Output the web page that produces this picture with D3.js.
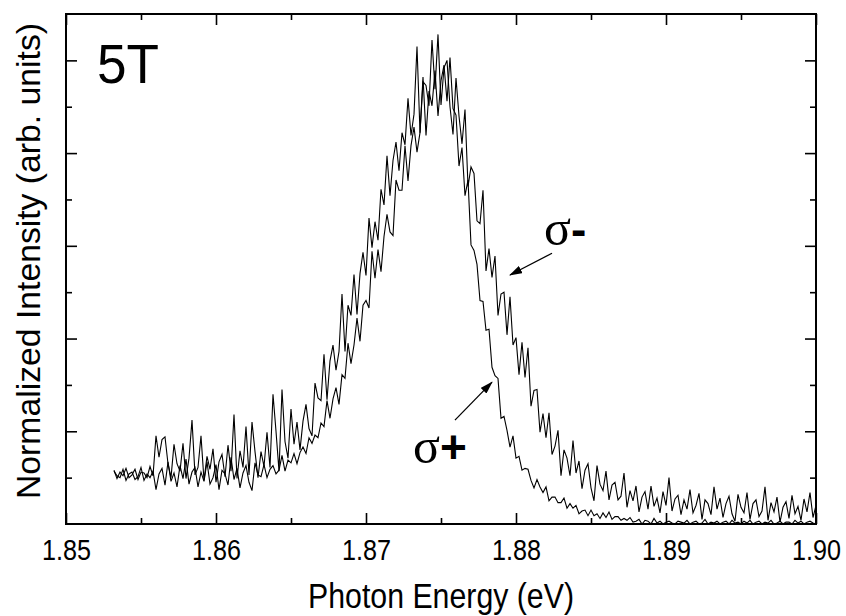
<!DOCTYPE html>
<html>
<head>
<meta charset="utf-8">
<script src="https://cdn.jsdelivr.net/npm/d3@7/dist/d3.min.js"></script>
<style>
body { margin: 0; background: #fff; }
#chart text { font-family: "Liberation Sans", Arial, sans-serif; fill: #000; }
</style>
</head>
<body>
<div id="chart"></div>
<script>

// Photon energy of each spectrometer channel (eV)
var energy = [
    1.8532, 1.8534, 1.8536, 1.8538, 1.8540, 1.8542, 1.8544, 1.8546, 1.8548, 1.8550,
    1.8552, 1.8554, 1.8556, 1.8558, 1.8560, 1.8562, 1.8564, 1.8566, 1.8568, 1.8570,
    1.8572, 1.8574, 1.8576, 1.8578, 1.8580, 1.8582, 1.8584, 1.8586, 1.8588, 1.8590,
    1.8592, 1.8594, 1.8596, 1.8598, 1.8600, 1.8602, 1.8604, 1.8606, 1.8608, 1.8610,
    1.8612, 1.8614, 1.8616, 1.8618, 1.8620, 1.8622, 1.8624, 1.8626, 1.8628, 1.8630,
    1.8632, 1.8634, 1.8636, 1.8638, 1.8640, 1.8642, 1.8644, 1.8646, 1.8648, 1.8650,
    1.8652, 1.8654, 1.8656, 1.8658, 1.8660, 1.8662, 1.8664, 1.8666, 1.8668, 1.8670,
    1.8672, 1.8674, 1.8676, 1.8678, 1.8680, 1.8682, 1.8684, 1.8686, 1.8688, 1.8690,
    1.8692, 1.8694, 1.8696, 1.8698, 1.8700, 1.8702, 1.8704, 1.8706, 1.8708, 1.8710,
    1.8712, 1.8714, 1.8716, 1.8718, 1.8720, 1.8722, 1.8724, 1.8726, 1.8728, 1.8730,
    1.8732, 1.8734, 1.8736, 1.8738, 1.8740, 1.8742, 1.8744, 1.8746, 1.8748, 1.8750,
    1.8752, 1.8754, 1.8756, 1.8758, 1.8760, 1.8762, 1.8764, 1.8766, 1.8768, 1.8770,
    1.8772, 1.8774, 1.8776, 1.8778, 1.8780, 1.8782, 1.8784, 1.8786, 1.8788, 1.8790,
    1.8792, 1.8794, 1.8796, 1.8798, 1.8800, 1.8802, 1.8804, 1.8806, 1.8808, 1.8810,
    1.8812, 1.8814, 1.8816, 1.8818, 1.8820, 1.8822, 1.8824, 1.8826, 1.8828, 1.8830,
    1.8832, 1.8834, 1.8836, 1.8838, 1.8840, 1.8842, 1.8844, 1.8846, 1.8848, 1.8850,
    1.8852, 1.8854, 1.8856, 1.8858, 1.8860, 1.8862, 1.8864, 1.8866, 1.8868, 1.8870,
    1.8872, 1.8874, 1.8876, 1.8878, 1.8880, 1.8882, 1.8884, 1.8886, 1.8888, 1.8890,
    1.8892, 1.8894, 1.8896, 1.8898, 1.8900, 1.8902, 1.8904, 1.8906, 1.8908, 1.8910,
    1.8912, 1.8914, 1.8916, 1.8918, 1.8920, 1.8922, 1.8924, 1.8926, 1.8928, 1.8930,
    1.8932, 1.8934, 1.8936, 1.8938, 1.8940, 1.8942, 1.8944, 1.8946, 1.8948, 1.8950,
    1.8952, 1.8954, 1.8956, 1.8958, 1.8960, 1.8962, 1.8964, 1.8966, 1.8968, 1.8970,
    1.8972, 1.8974, 1.8976, 1.8978, 1.8980, 1.8982, 1.8984, 1.8986, 1.8988, 1.8990,
    1.8992, 1.8994, 1.8996, 1.8998, 1.9000
];

// sigma- spectrum (broad, noisy tail on the high energy side)
var sigmaMinus = [
    0.58, 0.49, 0.56, 0.52, 0.60, 0.50, 0.53, 0.59, 0.48, 0.56, 0.55, 0.50, 0.62, 0.52,
    0.95, 0.72, 0.91, 0.94, 0.65, 0.50, 0.86, 0.65, 0.57, 0.87,
    0.49, 0.71, 1.12, 0.53, 0.61, 0.95, 0.47, 0.73, 0.59, 0.81,
    0.45, 0.67, 0.75, 0.51, 0.85, 0.57, 1.18, 0.49, 0.79, 0.61,
    1.05, 0.53, 1.10, 0.78, 0.50, 0.78, 0.62, 0.99, 0.61, 1.40,
    1.00, 0.57, 1.45, 0.89, 0.71, 1.24, 0.86, 1.10, 0.80, 1.11,
    1.29, 1.03, 0.95, 1.52, 1.36, 1.33, 1.83, 1.34, 1.76, 1.93,
    1.66, 1.86, 2.48, 1.86, 2.36, 2.25, 2.69, 2.26, 2.70, 2.93,
    2.68, 3.30, 2.98, 3.26, 3.06, 3.61, 3.44, 3.97, 3.54, 3.92,
    4.12, 3.81, 4.22, 4.09, 4.59, 4.19, 4.42, 5.15, 4.22, 4.77,
    4.73, 4.51, 5.22, 4.69, 5.28, 4.52, 4.92, 5.00, 4.50, 4.20,
    4.81, 4.40, 4.10, 4.47, 3.64, 3.85, 3.78, 3.27, 3.24, 3.60,
    2.73, 2.97, 2.66, 2.89, 2.25, 2.48, 2.50, 2.04, 2.45, 1.93,
    2.01, 1.61, 1.96, 1.58, 1.90, 1.27, 1.44, 1.45, 0.99, 1.19,
    0.93, 1.20, 0.75, 0.84, 1.01, 0.52, 0.80, 0.71, 0.52, 0.90,
    0.55, 0.68, 0.38, 0.58, 0.65, 0.39, 0.25, 0.63, 0.43, 0.36,
    0.57, 0.26, 0.42, 0.45, 0.26, 0.30, 0.55, 0.18, 0.36, 0.25,
    0.41, 0.13, 0.29, 0.35, 0.16, 0.41, 0.19, 0.28, 0.12, 0.35,
    0.20, 0.50, 0.14, 0.27, 0.31, 0.10, 0.26, 0.16, 0.37, 0.12,
    0.20, 0.33, 0.05, 0.26, 0.22, 0.10, 0.40, 0.16, 0.28, 0.07,
    0.22, 0.30, 0.11, 0.03, 0.32, 0.18, 0.12, 0.34, 0.05, 0.22,
    0.26, 0.08, 0.14, 0.40, 0.04, 0.23, 0.13, 0.29, 0.02, 0.18,
    0.24, 0.06, 0.31, 0.11, 0.19, 0.04, 0.27, 0.13, 0.34, 0.07,
    0.20
];

// sigma+ spectrum (narrower, smooth tail)
var sigmaPlus = [
    0.57, 0.52, 0.50, 0.59, 0.47, 0.54, 0.56, 0.48, 0.51, 0.61, 0.47, 0.54, 0.50, 0.57,
    0.37, 0.54, 0.60, 0.42, 0.67, 0.46, 0.55, 0.40, 0.63, 0.49,
    0.70, 0.43, 0.56, 0.61, 0.40, 0.56, 0.46, 0.67, 0.43, 0.50,
    0.64, 0.37, 0.58, 0.54, 0.42, 0.72, 0.48, 0.60, 0.39, 0.55,
    0.63, 0.45, 0.36, 0.66, 0.53, 0.51, 0.64, 0.50, 0.59, 0.63,
    0.54, 0.58, 0.74, 0.57, 0.69, 0.66, 0.76, 0.65, 0.77, 0.83,
    0.76, 0.93, 0.87, 0.96, 0.93, 1.09, 1.05, 1.33, 1.14, 1.35,
    1.47, 1.29, 1.61, 1.57, 1.95, 1.73, 1.93, 2.22, 1.97, 2.36,
    2.41, 2.33, 2.94, 2.65, 2.96, 2.72, 3.10, 3.34, 3.15, 3.11,
    3.71, 3.60, 3.60, 4.08, 3.70, 4.08, 4.28, 4.01, 4.22, 4.82,
    4.19, 4.67, 4.51, 4.89, 4.40, 4.78, 4.95, 4.56, 5.03, 4.48,
    4.41, 3.86, 4.06, 3.54, 3.71, 3.01, 2.95, 2.80, 2.41, 2.40,
    2.09, 2.10, 1.69, 1.60, 1.57, 1.14, 1.16, 1.01, 0.83, 0.95,
    0.71, 0.73, 0.58, 0.60, 0.59, 0.47, 0.39, 0.48, 0.40, 0.34,
    0.40, 0.25, 0.29, 0.29, 0.23, 0.23, 0.28, 0.17, 0.22, 0.17,
    0.20, 0.11, 0.14, 0.15, 0.09, 0.15, 0.09, 0.11, 0.06, 0.12,
    0.07, 0.13, 0.05, 0.08, 0.08, 0.04, 0.06, 0.04, 0.07, 0.02,
    0.03, 0.05, 0.00, 0.04, 0.03, 0.00, 0.06, 0.01, 0.03, 0.00,
    0.02, 0.03, 0.01, 0.00, 0.03, 0.02, 0.01, 0.04, 0.00, 0.02,
    0.03, 0.00, 0.01, 0.05, 0.00, 0.02, 0.01, 0.03, 0.00, 0.02,
    0.03, 0.00, 0.04, 0.01, 0.02, 0.00, 0.03, 0.01, 0.04, 0.00,
    0.02, 0.03, 0.00, 0.02, 0.01, 0.04, 0.00, 0.01, 0.03, 0.00,
    0.02, 0.02, 0.00, 0.04, 0.01, 0.03, 0.00, 0.02, 0.03, 0.01,
    0.00
];

// axis ticks
var xMajorTicks = [1.85, 1.86, 1.87, 1.88, 1.89, 1.90];
var xMinorTicks = [1.855, 1.865, 1.875, 1.885, 1.895];
var yMajorTicks = [1, 2, 3, 4, 5];
var yMinorTicks = [0.5, 1.5, 2.5, 3.5, 4.5];

var width = 846, height = 616;
var margin = {top: 14, right: 30, bottom: 92, left: 66};
var plotW = width - margin.left - margin.right;
var plotH = height - margin.top - margin.bottom;

var svg = d3.select("#chart").append("svg")
    .attr("width", width)
    .attr("height", height);

var x = d3.scaleLinear().domain([1.85, 1.90]).range([0, plotW]);
var y = d3.scaleLinear().domain([0, 5.5]).range([plotH, 0]);

var g = svg.append("g").attr("transform", `translate(${margin.left},${margin.top})`);

// Inward pointing ticks on all four sides
function tickAxis(axis, values, size, fmt) {
    return axis.tickValues(values).tickSize(size).tickFormat(fmt || "");
}

function addAxis(axis, transform) {
    var a = g.append("g").attr("transform", transform).call(axis);
    a.select(".domain").remove();
    a.selectAll("line").attr("stroke", "#000").attr("stroke-width", 1.6);
    return a;
}

var fmt = d3.format(".2f");
var bottom = addAxis(tickAxis(d3.axisBottom(x), xMajorTicks, -11, fmt).tickPadding(15), `translate(0,${plotH})`);
addAxis(tickAxis(d3.axisBottom(x), xMinorTicks, -6), `translate(0,${plotH})`);
addAxis(tickAxis(d3.axisTop(x), xMajorTicks, -11), "translate(0,0)");
addAxis(tickAxis(d3.axisTop(x), xMinorTicks, -6), "translate(0,0)");
addAxis(tickAxis(d3.axisLeft(y), yMajorTicks, -11), "translate(0,0)");
addAxis(tickAxis(d3.axisLeft(y), yMinorTicks, -6), "translate(0,0)");
addAxis(tickAxis(d3.axisRight(y), yMajorTicks, -11), `translate(${plotW},0)`);
addAxis(tickAxis(d3.axisRight(y), yMinorTicks, -6), `translate(${plotW},0)`);

// tick labels are a little condensed in the original
bottom.attr("font-size", null).attr("font-family", null);
bottom.selectAll("text")
    .style("font-size", "30px")
    .attr("transform", "scale(0.84,1)");

// frame
g.append("rect")
    .attr("width", plotW)
    .attr("height", plotH)
    .attr("fill", "none")
    .attr("stroke", "#000")
    .attr("stroke-width", 2);

// spectra
var line = d3.line()
    .x(d => x(d[0]))
    .y(d => y(d[1]));

[sigmaMinus, sigmaPlus].forEach(function(series) {
    g.append("path")
        .datum(d3.zip(energy, series))
        .attr("fill", "none")
        .attr("stroke", "#000")
        .attr("stroke-width", 1.1)
        .attr("d", line);
});

// axis titles
svg.append("text")
    .attr("x", margin.left + plotW / 2)
    .attr("y", 608)
    .attr("text-anchor", "middle")
    .style("font-size", "35px")
    .attr("textLength", 266)
    .attr("lengthAdjust", "spacingAndGlyphs")
    .text("Photon Energy (eV)");

svg.append("text")
    .attr("transform", "translate(40,261) rotate(-90)")
    .attr("text-anchor", "middle")
    .style("font-size", "34px")
    .attr("textLength", 476)
    .attr("lengthAdjust", "spacingAndGlyphs")
    .text("Normalized Intensity (arb. units)");

// field label
g.append("text")
    .attr("x", x(1.85207))
    .attr("y", y(4.756))
    .style("font-size", "56px")
    .attr("textLength", 62)
    .attr("lengthAdjust", "spacingAndGlyphs")
    .text("5T");

// arrows pointing at the two polarisations
svg.append("defs").append("marker")
    .attr("id", "head")
    .attr("markerUnits", "userSpaceOnUse")
    .attr("markerWidth", 13)
    .attr("markerHeight", 8)
    .attr("refX", 12)
    .attr("refY", 4)
    .attr("orient", "auto")
    .append("path")
    .attr("d", "M0,0L13,4L0,8Z")
    .attr("fill", "#000");

function arrow(e1, v1, e2, v2) {
    g.append("line")
        .attr("x1", x(e1)).attr("y1", y(v1))
        .attr("x2", x(e2)).attr("y2", y(v2))
        .attr("stroke", "#000")
        .attr("stroke-width", 1.3)
        .attr("marker-end", "url(#head)");
}

function sigmaLabel(e, v, sign) {
    var t = g.append("text")
        .attr("x", x(e))
        .attr("y", y(v));
    t.append("tspan")
        .style("font-family", "'Liberation Serif', 'Times New Roman', serif")
        .style("font-size", "50px")
        .text("σ");
    t.append("tspan")
        .style("font-size", "46px")
        .style("font-weight", "bold")
        .text(sign);
}

arrow(1.8824, 2.92, 1.8796, 2.685);
arrow(1.87593, 1.12, 1.8784, 1.53);
sigmaLabel(1.88187, 3.01, "-");
sigmaLabel(1.87313, 0.66, "+");

</script>
</body>
</html>
